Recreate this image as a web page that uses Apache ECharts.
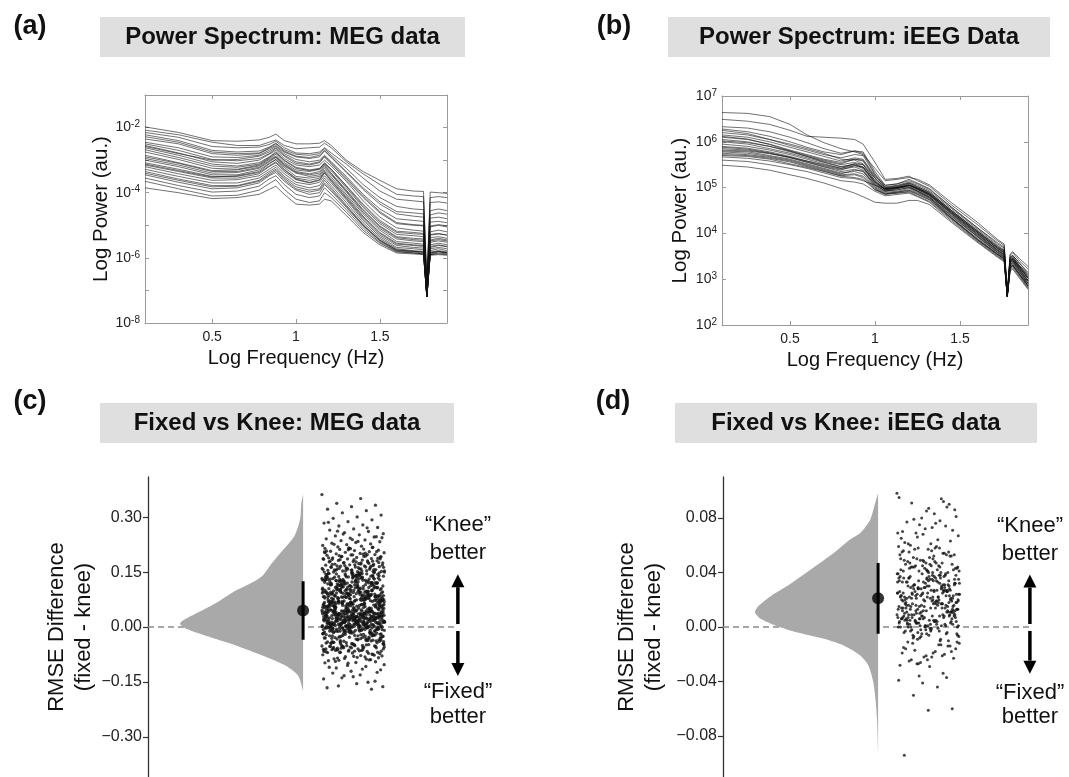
<!DOCTYPE html>
<html><head><meta charset="utf-8">
<script src="https://cdn.jsdelivr.net/npm/echarts@6/dist/echarts.min.js"></script>
<style>html,body{margin:0;padding:0;background:#fff}#c{width:1069px;height:777px}</style>
</head><body><div id="c"></div>
<script>
// ---------- DATA ----------
const megFreq = [0.1,0.3,0.5,0.65,0.78,0.84,0.88,0.93,1.0,1.08,1.14,1.17,1.21,1.3,1.4,1.5,1.6,1.7,1.76,1.78,1.8,1.85,1.9];
const megLines = [
[-1.98,-2.15,-2.40,-2.42,-2.38,-2.30,-2.20,-2.40,-2.50,-2.50,-2.48,-2.40,-2.55,-3.00,-3.35,-3.62,-3.88,-3.95,-3.96,-6.7,-3.98,-4.00,-4.02],
[-2.08,-2.22,-2.45,-2.55,-2.55,-2.45,-2.38,-2.55,-2.65,-2.62,-2.60,-2.48,-2.62,-3.05,-3.42,-3.75,-4.05,-4.10,-4.12,-6.8,-4.15,-4.12,-4.15],
[-2.15,-2.30,-2.58,-2.62,-2.60,-2.52,-2.42,-2.62,-2.78,-2.80,-2.75,-2.62,-2.78,-3.12,-3.55,-3.95,-4.20,-4.25,-4.28,-6.9,-4.30,-4.28,-4.32],
[-2.22,-2.40,-2.70,-2.75,-2.72,-2.60,-2.48,-2.68,-2.82,-2.85,-2.80,-2.65,-2.85,-3.25,-3.75,-4.15,-4.42,-4.50,-4.52,-6.9,-4.55,-4.50,-4.55],
[-2.28,-2.45,-2.75,-2.80,-2.78,-2.62,-2.50,-2.72,-2.88,-2.92,-2.85,-2.70,-2.90,-3.35,-3.85,-4.28,-4.58,-4.62,-4.65,-6.95,-4.68,-4.62,-4.66],
[-2.35,-2.50,-2.80,-2.85,-2.80,-2.65,-2.55,-2.75,-2.90,-2.95,-2.90,-2.72,-2.92,-3.38,-3.90,-4.35,-4.65,-4.72,-4.75,-7.0,-4.78,-4.75,-4.80],
[-2.45,-2.62,-2.90,-2.92,-2.85,-2.70,-2.58,-2.80,-2.98,-3.05,-3.00,-2.85,-3.05,-3.50,-4.05,-4.50,-4.80,-4.85,-4.88,-7.0,-4.90,-4.88,-4.92],
[-2.50,-2.70,-2.98,-3.02,-2.95,-2.80,-2.65,-2.88,-3.10,-3.15,-3.08,-2.90,-3.12,-3.60,-4.15,-4.62,-4.95,-5.00,-5.02,-7.1,-5.05,-5.00,-5.05],
[-2.55,-2.78,-3.05,-3.10,-3.00,-2.82,-2.70,-2.95,-3.15,-3.20,-3.15,-3.00,-3.18,-3.65,-4.25,-4.75,-5.08,-5.15,-5.18,-7.1,-5.20,-5.15,-5.20],
[-2.58,-2.80,-3.00,-2.98,-2.88,-2.75,-2.62,-2.85,-3.05,-3.12,-3.05,-2.88,-3.08,-3.55,-4.10,-4.58,-4.92,-4.98,-5.00,-7.05,-5.02,-4.98,-5.02],
[-2.62,-2.85,-3.12,-3.18,-3.08,-2.90,-2.75,-3.00,-3.22,-3.30,-3.25,-3.10,-3.28,-3.78,-4.35,-4.85,-5.18,-5.22,-5.25,-7.1,-5.28,-5.25,-5.30],
[-2.68,-2.92,-3.18,-3.22,-3.12,-2.92,-2.78,-3.02,-3.25,-3.32,-3.28,-3.08,-3.28,-3.80,-4.40,-4.90,-5.22,-5.26,-5.28,-7.1,-5.30,-5.27,-5.30],
[-2.75,-2.98,-3.25,-3.28,-3.15,-2.95,-2.82,-3.08,-3.30,-3.35,-3.28,-3.12,-3.32,-3.85,-4.45,-4.95,-5.28,-5.32,-5.35,-7.15,-5.38,-5.35,-5.40],
[-2.85,-3.08,-3.32,-3.30,-3.18,-2.98,-2.88,-3.12,-3.35,-3.42,-3.35,-3.15,-3.40,-3.92,-4.52,-5.02,-5.35,-5.40,-5.42,-7.15,-5.45,-5.40,-5.45],
[-2.90,-3.10,-3.35,-3.35,-3.22,-3.02,-2.90,-3.15,-3.38,-3.45,-3.40,-3.20,-3.42,-3.95,-4.55,-5.05,-5.38,-5.44,-5.46,-7.15,-5.48,-5.44,-5.48],
[-2.95,-3.15,-3.40,-3.38,-3.25,-3.05,-2.92,-3.18,-3.40,-3.50,-3.45,-3.25,-3.45,-3.98,-4.60,-5.10,-5.42,-5.48,-5.50,-7.15,-5.52,-5.48,-5.52],
[-3.00,-3.20,-3.45,-3.45,-3.30,-3.10,-2.98,-3.22,-3.50,-3.55,-3.50,-3.30,-3.52,-4.05,-4.65,-5.15,-5.50,-5.55,-5.58,-7.2,-5.60,-5.55,-5.60],
[-3.08,-3.28,-3.50,-3.50,-3.38,-3.18,-3.05,-3.30,-3.55,-3.62,-3.55,-3.35,-3.58,-4.10,-4.72,-5.22,-5.55,-5.60,-5.62,-7.2,-5.65,-5.60,-5.65],
[-3.12,-3.32,-3.52,-3.48,-3.35,-3.12,-2.98,-3.28,-3.58,-3.68,-3.60,-3.38,-3.62,-4.15,-4.75,-5.25,-5.58,-5.62,-5.65,-7.2,-5.68,-5.62,-5.66],
[-3.15,-3.35,-3.55,-3.55,-3.42,-3.20,-3.08,-3.35,-3.60,-3.70,-3.62,-3.40,-3.65,-4.18,-4.80,-5.30,-5.62,-5.68,-5.70,-7.2,-5.72,-5.68,-5.72],
[-3.20,-3.42,-3.62,-3.60,-3.48,-3.28,-3.15,-3.42,-3.68,-3.75,-3.68,-3.48,-3.70,-4.22,-4.85,-5.35,-5.68,-5.72,-5.75,-7.2,-5.78,-5.72,-5.78],
[-3.28,-3.50,-3.70,-3.70,-3.55,-3.35,-3.22,-3.50,-3.75,-3.85,-3.78,-3.55,-3.78,-4.30,-4.92,-5.40,-5.72,-5.78,-5.80,-7.2,-5.82,-5.78,-5.82],
[-3.35,-3.58,-3.78,-3.78,-3.62,-3.40,-3.28,-3.55,-3.82,-3.92,-3.88,-3.62,-3.85,-4.38,-4.98,-5.45,-5.75,-5.80,-5.82,-7.2,-5.85,-5.80,-5.85],
[-3.40,-3.62,-3.82,-3.80,-3.65,-3.45,-3.32,-3.60,-3.88,-3.98,-3.92,-3.70,-3.90,-4.42,-5.00,-5.46,-5.76,-5.80,-5.82,-7.2,-5.85,-5.80,-5.84],
[-3.45,-3.68,-3.88,-3.85,-3.70,-3.48,-3.38,-3.65,-3.92,-4.05,-4.00,-3.75,-3.95,-4.45,-5.02,-5.48,-5.78,-5.82,-5.85,-7.2,-5.88,-5.82,-5.85],
[-3.55,-3.78,-3.98,-3.95,-3.80,-3.58,-3.48,-3.75,-4.05,-4.15,-4.10,-3.85,-4.05,-4.52,-5.08,-5.52,-5.80,-5.85,-5.88,-7.2,-5.90,-5.85,-5.88],
[-3.65,-3.88,-4.10,-4.08,-3.92,-3.72,-3.60,-3.90,-4.20,-4.30,-4.25,-4.00,-4.15,-4.60,-5.15,-5.55,-5.82,-5.85,-5.88,-7.2,-5.90,-5.88,-5.90],
[-3.85,-4.00,-4.18,-4.15,-4.05,-3.90,-3.80,-4.05,-4.35,-4.38,-4.35,-4.20,-4.25,-4.70,-5.22,-5.60,-5.85,-5.88,-5.90,-7.2,-5.92,-5.90,-5.92]
];
const ieegFreq = [0.1,0.25,0.38,0.5,0.6,0.7,0.8,0.88,0.93,1.0,1.06,1.13,1.2,1.25,1.32,1.45,1.6,1.72,1.76,1.778,1.795,1.81,1.85,1.9];
const ieegLines = [
[6.64,6.62,6.55,6.38,6.15,5.98,5.85,5.78,5.72,5.42,5.15,5.18,5.22,5.18,5.06,4.67,4.25,3.87,3.77,2.70,3.55,3.60,3.45,3.28],
[6.49,6.45,6.38,6.25,6.12,6.10,6.08,6.05,5.95,5.55,5.18,5.20,5.25,5.15,5.03,4.62,4.20,3.84,3.74,2.70,3.52,3.58,3.40,3.22],
[6.33,6.30,6.22,6.10,5.98,5.85,5.75,5.80,5.78,5.35,5.05,5.08,5.18,5.10,4.98,4.57,4.13,3.80,3.70,2.68,3.48,3.52,3.35,3.15],
[6.28,6.22,6.12,6.00,5.88,5.78,5.72,5.80,5.75,5.30,5.02,5.05,5.12,5.05,4.93,4.54,4.10,3.74,3.64,2.66,3.45,3.50,3.30,3.10],
[6.25,6.18,6.05,5.92,5.82,5.72,5.65,5.72,5.70,5.28,5.00,5.02,5.10,5.02,4.90,4.50,4.05,3.70,3.62,2.66,3.42,3.46,3.28,3.05],
[6.20,6.15,6.05,5.95,5.85,5.75,5.62,5.60,5.52,5.20,4.98,5.00,5.05,4.98,4.86,4.47,4.03,3.67,3.58,2.65,3.40,3.44,3.25,3.02],
[6.15,6.10,6.00,5.88,5.78,5.68,5.58,5.65,5.62,5.25,5.05,5.08,5.15,5.08,4.96,4.57,4.13,3.77,3.68,2.67,3.48,3.52,3.35,3.12],
[6.12,6.06,5.94,5.80,5.68,5.56,5.46,5.50,5.44,5.12,4.96,5.00,5.06,4.99,4.87,4.47,4.03,3.67,3.57,2.65,3.40,3.44,3.26,3.02],
[6.10,6.05,5.95,5.82,5.72,5.62,5.55,5.62,5.58,5.20,4.98,5.02,5.08,5.00,4.88,4.50,4.07,3.72,3.62,2.66,3.44,3.48,3.30,3.08],
[6.05,6.00,5.90,5.78,5.68,5.58,5.50,5.55,5.50,5.15,4.95,4.98,5.05,4.98,4.86,4.47,4.03,3.68,3.58,2.65,3.40,3.44,3.26,3.02],
[6.02,5.98,5.90,5.80,5.70,5.60,5.52,5.62,5.60,5.22,5.00,5.04,5.10,5.02,4.90,4.50,4.06,3.70,3.60,2.65,3.42,3.46,3.28,3.05],
[6.00,5.95,5.85,5.75,5.65,5.55,5.45,5.52,5.45,5.10,4.95,5.00,5.05,4.96,4.83,4.44,4.00,3.64,3.54,2.64,3.38,3.42,3.22,2.98],
[5.95,5.90,5.82,5.72,5.62,5.52,5.42,5.48,5.42,5.08,4.92,4.98,5.02,4.95,4.83,4.42,3.97,3.62,3.52,2.64,3.35,3.40,3.20,2.95],
[5.90,5.86,5.78,5.68,5.58,5.48,5.40,5.45,5.38,5.05,4.92,4.95,5.00,4.92,4.80,4.40,3.95,3.60,3.50,2.64,3.32,3.38,3.18,2.92],
[5.88,5.84,5.76,5.66,5.56,5.46,5.38,5.48,5.45,5.12,4.96,4.98,5.05,4.97,4.84,4.43,3.98,3.63,3.53,2.64,3.36,3.40,3.20,2.96],
[5.85,5.82,5.75,5.65,5.55,5.45,5.35,5.40,5.35,5.02,4.90,4.92,4.98,4.90,4.78,4.37,3.93,3.58,3.48,2.63,3.30,3.35,3.15,2.90],
[5.82,5.80,5.74,5.66,5.58,5.50,5.42,5.52,5.50,5.15,4.97,5.00,5.06,4.98,4.85,4.45,4.00,3.64,3.55,2.64,3.37,3.42,3.22,2.97],
[5.80,5.78,5.70,5.62,5.52,5.42,5.32,5.35,5.30,5.00,4.88,4.90,4.95,4.88,4.76,4.34,3.90,3.56,3.47,2.63,3.28,3.32,3.12,2.88],
[5.78,5.75,5.68,5.60,5.50,5.40,5.30,5.38,5.36,5.06,4.93,4.95,5.00,4.93,4.80,4.38,3.94,3.59,3.49,2.63,3.31,3.36,3.16,2.91],
[5.75,5.72,5.66,5.58,5.48,5.38,5.28,5.30,5.25,4.98,4.86,4.88,4.92,4.85,4.73,4.32,3.87,3.54,3.44,2.62,3.25,3.30,3.10,2.85],
[5.72,5.70,5.64,5.56,5.46,5.36,5.26,5.28,5.22,4.96,4.86,4.90,4.94,4.86,4.74,4.33,3.88,3.55,3.45,2.62,3.26,3.31,3.11,2.86],
[5.70,5.68,5.62,5.52,5.44,5.35,5.25,5.22,5.18,4.95,4.85,4.88,4.90,4.82,4.70,4.30,3.85,3.52,3.42,2.62,3.22,3.28,3.08,2.82],
[5.67,5.64,5.58,5.50,5.42,5.32,5.22,5.20,5.15,5.05,4.98,5.00,5.02,4.92,4.78,4.34,3.87,3.54,3.44,2.62,3.25,3.30,3.10,2.85],
[5.60,5.57,5.50,5.42,5.35,5.25,5.15,5.12,5.08,4.92,4.82,4.85,4.88,4.80,4.68,4.27,3.83,3.50,3.40,2.61,3.20,3.25,3.05,2.80],
[5.49,5.45,5.38,5.28,5.20,5.10,4.98,4.88,4.80,4.68,4.66,4.66,4.72,4.72,4.63,4.24,3.81,3.48,3.38,2.61,3.18,3.22,3.02,2.78]
];
const powerTicks = [0.5, 1, 1.5];
const megExpTicks = [-8, -6, -4, -2];
const ieegExpTicks = [2, 3, 4, 5, 6, 7];

// half-violin density profiles: [difference, relative width]
const megDensity = [[0.363,0],[0.34,0.014],[0.295,0.024],[0.249,0.07],[0.204,0.18],[0.167,0.27],[0.14,0.33],[0.122,0.41],[0.095,0.57],[0.067,0.70],[0.04,0.85],[0.017,0.98],[0.008,1.0],[-0.005,0.95],[-0.024,0.79],[-0.051,0.54],[-0.078,0.33],[-0.106,0.14],[-0.133,0.04],[-0.174,0]];
const ieegDensity = [[0.098,0],[0.0907,0.024],[0.0785,0.065],[0.0689,0.145],[0.064,0.23],[0.0543,0.36],[0.042,0.55],[0.030,0.74],[0.0228,0.87],[0.0155,0.97],[0.0107,1.0],[0.0058,0.95],[0.001,0.83],[-0.0039,0.66],[-0.0087,0.44],[-0.0136,0.28],[-0.0209,0.145],[-0.028,0.08],[-0.040,0.04],[-0.0548,0.019],[-0.069,0.008],[-0.0936,0]];

// mean and 95% CI of the RMSE difference
const megMean = 0.045, megCI = [-0.035, 0.125];
const ieegMean = 0.021, ieegCI = [-0.005, 0.047];
const megDiffTicks = [-0.30, -0.15, 0, 0.15, 0.30];
const ieegDiffTicks = [-0.08, -0.04, 0, 0.04, 0.08];

// per-channel RMSE difference (thousandths)
const megDiff = [
362,351,338,333,329,322,318,312,306,301,297,293,288,284,279,276,272,268,265,261,258,255,252,249,246,243,241,238,236,233,231,229,227,225,223,221,262,247,239,286,271,254,244,234,226,
218,216,215,213,212,210,209,207,206,204,203,201,200,198,197,196,194,193,191,190,189,187,186,185,183,182,181,179,178,177,176,175,173,172,171,170,169,167,166,165,164,163,162,161,160,159,158,157,156,155,154,153,152,151,150,217,211,205,199,195,188,184,180,174,168,163,159,155,151,214,208,202,192,186,178,171,166,161,157,153,219,206,197,189,181,175,169,162,156,152,215,203,193,184,176,170,164,158,154,150,
147,93,121,68,135,82,109,56,142,77,101,63,128,88,115,52,139,71,97,124,59,132,85,106,66,144,79,113,54,126,91,72,137,103,61,118,84,149,57,96,130,74,110,65,141,87,122,53,99,134,70,116,80,145,62,104,127,90,58,138,76,112,67,131,94,51,120,83,146,69,107,136,60,98,125,78,143,55,114,89,129,64,102,140,73,119,86,50,133,95,111,57,148,81,123,66,105,137,75,117,92,53,128,70,144,100,62,121,84,139,59,108,131,77,96,56,126,88,142,68,113,103,54,135,80,119,64,147,91,110,72,124,58,138,86,101,61,130,76,115,95,52,141,69,106,127,83,65,144,98,118,74,57,132,89,109,63,136,79,121,94,55,126,71,112,148,85,60,103,134,78,97,66,140,116,87,53,129,73,107,62,123,92,145,81,58,114,99,70,137,67,104,125,84,51,131,90,117,75,143,63,110,96,56,128,82,102,139,69,120,93,60,133,77,108,146,86,
12,-8,31,5,44,-23,18,-2,37,9,-35,25,1,48,-14,15,33,-6,22,3,-41,40,11,-19,28,7,-3,46,17,-28,35,0,20,-11,42,13,-46,26,4,38,-16,19,-7,30,8,45,-31,23,2,36,-9,16,-38,29,10,-1,43,21,-24,34,6,-13,39,14,-4,27,-49,47,18,-20,32,3,24,-10,41,11,-33,36,0,15,-5,44,26,-17,30,7,-43,21,12,-2,38,-26,19,49,5,-12,33,23,-37,9,28,-8,46,16,1,-21,35,13,-45,40,25,-3,31,6,-15,43,20,-30,10,37,-6,27,2,-48,45,17,-11,34,22,-1,39,8,-25,29,14,-40,42,4,-18,24,32,-7,47,11,-34,19,0,36,-13,26,-4,41,15,-27,30,9,-44,23,3,-9,38,18,-22,33,-2,44,12,-36,28,6,-16,40,21,-5,35,10,-47,25,1,-12,45,16,-29,31,7,-3,37,20,-39,27,13,-19,43,4,-8,34,24,-1,48,11,-23,39,17,-42,29,2,-14,36,22,-6,46,8,-32,26,14,0,41,19,-10,32,5,-50,38,15,-24,28,3,-7,44,23,-17,35,9,-37,30,12,-2,40,18,-28,25,6,-11,47,21,-45,33,1,
-52,-78,-61,-95,-57,-70,-88,-54,-66,-83,-59,-74,-99,-63,-56,-91,-69,-80,-53,-72,-86,-60,-65,-94,-77,-55,-68,-82,-58,-73,-97,-62,-89,-51,-76,-64,-85,-57,-71,-92,-67,-54,-79,-60,-87,-75,-63,-98,-56,-70,-84,-66,-53,-90,-81,
-103,-131,-112,-148,-121,-166,-108,-139,-117,-155,-126,-170,-105,-142,-115,-161,-124,-136,-110,-151,-133,-163,
4,57,-21,113,32,86,-45,148,18,69,-9,102,41,175,-33,77,26,130,-2,59,93,14,-56,121,48,83,7,160,37,-14,66,108,21,-40,142,54,1,88,29,-26,117,73,11,185,45,-6,97,62,-63,35,134,19,80,-18,51,105,8,168,42,-30,71,125,24,-51,90,3,58,153,33,-11,84,110,16,-37,64,192,47,-4,99,28,-67,75,138,12,53,-24,87,119,39,-8,68,157,22,-44,95,6,60,127,31,-16,81,106,15,-58,72,143,44,-1,92,26,-35,57,180,10,79,-20,114,49,2,65,131,36,-48,89,17,-12,101,55,164,27,-29,74,9,122,43,-61,85,30,-5,62,146,20,-39,96,52,13,-22,78,137,38,-69,70,107,5,-15,91,46,172,23,-53,63,118,34,-3,82,11,-42,100,56,150,29,-27,67,7,124,40,-10,86,21,-64,73,112,48,0,94,16,-33,59,139,35,-19,80,103,25,-47,69,198,14,-7,98,42,-36,61,128,31,3,84,-23,115,50,18,-55,76,145,37,-13,90,24,66,-31,109,45,8,158,28,-50,71,120,39,-1,87,12,-25,97,53,133,22,-60,64,104,33,-9,79,15,-43,93,47,167,26,-17,74,6,126,41,-34,88,19,-66,58,111,36,-4,83,10,-28,99,51,141,30,-52,68,2,116,44,-20,91,23,-38,63,187,34,-12,85,17,105,49,-57,72,9,136,38,-6,95,27,-41,60,123,46,-15,81,13,-32,102,55,155,25,-49,70,4,119,40,-24,89,20,-62,65,108,35,-3,78,14,-46,94,50,148,29,-21,75,7,129,43,-11,86
];
const ieegDiff = [
98,76,91,63,85,70,94,66,81,73,61,88,68,95,64,79,71,87,62,92,75,67,83,60,90,72,65,78,69,86,61,77,74,80,69,
59,44,52,41,56,47,58,43,50,55,40,48,53,45,57,42,51,46,54,49,41,58,44,52,47,55,40,50,43,56,48,53,45,59,42,51,46,57,49,54,41,44,52,47,55,43,50,58,45,53,
21,33,14,28,39,17,25,11,36,19,30,13,24,38,16,27,12,34,22,31,15,37,20,26,10,35,18,29,23,32,14,38,21,12,27,33,16,24,39,19,30,11,25,36,17,28,13,34,22,31,15,37,20,26,10,35,18,29,23,32,14,21,27,12,33,17,24,38,19,30,11,25,36,16,28,13,34,22,31,15,20,26,37,18,29,23,32,12,35,14,21,27,16,33,19,24,11,30,25,17,28,13,22,36,15,20,26,18,31,23,
5,-3,8,1,-7,4,0,9,-2,6,-9,3,7,-1,2,-5,8,0,4,-8,6,1,-4,9,3,-6,5,2,-10,7,0,-3,4,8,-1,6,2,-7,9,5,-2,3,-5,7,1,-9,4,8,0,-4,6,3,-1,9,2,-6,5,7,-8,1,4,-3,8,0,6,-10,3,9,-2,5,1,-5,7,2,
-12,-18,-24,-15,-21,-27,-11,-19,-25,-14,-22,-28,-13,-17,-23,-29,-16,-20,-26,-12,-18,-24,-14,-21,-19,-13,-27,-16,-22,-11,
-37,-41,-39,-44,-50,-60,-61,-94,-34,-36,
13,27,5,34,19,42,8,23,31,2,16,38,11,25,47,7,21,35,14,29,-4,18,40,9,26,33,4,22,44,12,30,17,37,6,24,48,15,28,1,20,36,10,32,45,3,23,39,13,27,-6,19,41,8,25,34,0,17,43,11,29,22,38,5,16,46,14,31,-2,24,36,9,20,42,12,28,3,18,35,7,26,49,15,33,-7,21,40,10,27,6,19,37,13,30,1,23,44,16,32,-3,11,39,8,25,34,17,4,22,41,14,29,-5,20,36,12
];

// ---------- CHART ----------
const FONT = '"Liberation Sans", Arial, Helvetica, sans-serif';
const chart = echarts.init(document.getElementById('c'), null, {renderer: 'canvas'});

// layout constants for the raincloud panels (hidden x scale 0..10)
const VIOLIN_EDGE = 4.7, VIOLIN_HALF = 3.73, JIT_LO = 5.27, JIT_W = 1.9;

function supLabel(v) { return '{b|10}{s|' + v + '}'; }
const supRich = { b: { fontSize: 14, color: '#222', fontFamily: FONT }, s: { fontSize: 10, color: '#222', fontFamily: FONT, verticalAlign: 'top', padding: [0, 0, 6, 0] } };

function specX(gi, pos) {
  return { type: 'value', gridIndex: gi, position: pos, min: 0.1, max: 1.9,
    axisLine: { show: true, lineStyle: { color: '#9a9a9a', width: 1 } },
    axisTick: { show: true, inside: true, length: 4, customValues: powerTicks, lineStyle: { color: '#9a9a9a' } },
    axisLabel: pos === 'bottom' ? { show: true, customValues: powerTicks, formatter: v => String(v), fontSize: 14, color: '#222', fontFamily: FONT, margin: 7 } : { show: false },
    splitLine: { show: false },
    name: pos === 'bottom' ? 'Log Frequency (Hz)' : '', nameLocation: 'middle', nameGap: 25,
    nameTextStyle: { fontSize: 20, color: '#111', fontFamily: FONT } };
}
function specY(gi, pos, min, max, labels) {
  const all = []; for (let k = min; k <= max; k++) all.push(k);
  return { type: 'value', gridIndex: gi, position: pos, min: min, max: max,
    axisLine: { show: true, lineStyle: { color: '#9a9a9a', width: 1 } },
    axisTick: { show: true, inside: true, length: 4, customValues: all, lineStyle: { color: '#9a9a9a' } },
    axisLabel: pos === 'left' ? { show: true, customValues: labels, formatter: supLabel, rich: supRich, margin: 5 } : { show: false },
    splitLine: { show: false },
    name: pos === 'left' ? 'Log Power (au.)' : '', nameLocation: 'middle', nameGap: 31,
    nameTextStyle: { fontSize: 20.5, color: '#111', fontFamily: FONT } };
}
function diffY(gi, lim, ticks, gap) {
  return { type: 'value', gridIndex: gi, min: -lim, max: lim,
    axisLine: { show: true, lineStyle: { color: '#333', width: 1.3 } },
    axisTick: { show: true, inside: false, length: 5, customValues: ticks, lineStyle: { color: '#333', width: 1.2 } },
    axisLabel: { customValues: ticks, formatter: v => (v < 0 ? '\u2212' : '') + Math.abs(v).toFixed(2), fontSize: 16, color: '#222', fontFamily: FONT, margin: 6 },
    splitLine: { show: false },
    name: 'RMSE Difference\n(fixed - knee)', nameLocation: 'middle', nameGap: gap,
    nameTextStyle: { fontSize: 22, lineHeight: 27, color: '#111', fontFamily: FONT } };
}

const series = [];
megLines.forEach(vals => series.push({ type: 'line', xAxisIndex: 0, yAxisIndex: 0, showSymbol: false, silent: true,
  data: megFreq.map((f, i) => [f, vals[i]]), lineStyle: { color: '#111', width: 0.8, opacity: 0.75 } }));
ieegLines.forEach(vals => series.push({ type: 'line', xAxisIndex: 2, yAxisIndex: 2, showSymbol: false, silent: true,
  data: ieegFreq.map((f, i) => [f, vals[i]]), lineStyle: { color: '#111', width: 0.8, opacity: 0.75 } }));

function violin(ax, dens) {
  return { type: 'custom', xAxisIndex: ax, yAxisIndex: ax, silent: true, data: [[VIOLIN_EDGE, 0]],
    renderItem(params, api) {
      const pts = [api.coord([VIOLIN_EDGE, dens[0][0]])];
      dens.forEach(([y, w]) => pts.push(api.coord([VIOLIN_EDGE - w * VIOLIN_HALF, y])));
      pts.push(api.coord([VIOLIN_EDGE, dens[dens.length - 1][0]]));
      return { type: 'polygon', shape: { points: pts, smooth: 0.25 }, style: { fill: '#a9a9a9' } };
    } };
}
function arrows(ax, x, items) {
  return { type: 'custom', xAxisIndex: ax, yAxisIndex: ax, silent: true, data: items.map(d => [x, d[0], d[1]]),
    encode: { x: 0, y: [1, 2] },
    renderItem(params, api) {
      const p0 = api.coord([api.value(0), api.value(1)]), p1 = api.coord([api.value(0), api.value(2)]);
      const dir = p1[1] < p0[1] ? -1 : 1, head = 13, hw = 6.5;
      return { type: 'group', children: [
        { type: 'line', shape: { x1: p0[0], y1: p0[1], x2: p1[0], y2: p1[1] - dir * head }, style: { stroke: '#000', lineWidth: 3.5 } },
        { type: 'polygon', shape: { points: [[p1[0], p1[1]], [p1[0] - hw, p1[1] - dir * head], [p1[0] + hw, p1[1] - dir * head]] }, style: { fill: '#000' } }
      ] };
    } };
}
function raincloud(ax, dens, vals, mean, ci, arrowX, arrowItems, dot) {
  series.push({ type: 'line', xAxisIndex: ax, yAxisIndex: ax, silent: true, showSymbol: false, z: 1,
    data: [[0, 0], [arrowX, 0]], lineStyle: { color: '#8a8a8a', width: 1.3, type: [6, 4] } });
  series.push(violin(ax, dens));
  series.push({ type: 'scatter', xAxisIndex: ax, yAxisIndex: ax, silent: true, symbolSize: dot,
    itemStyle: { color: '#151515' },
    data: vals.map((v, i) => [JIT_LO + ((i * 0.6180339887) % 1) * JIT_W, v / 1000]) });
  series.push({ type: 'line', xAxisIndex: ax, yAxisIndex: ax, silent: true, showSymbol: false, z: 5,
    data: [[VIOLIN_EDGE, ci[0]], [VIOLIN_EDGE, ci[1]]], lineStyle: { color: '#000', width: 3 } });
  series.push({ type: 'scatter', xAxisIndex: ax, yAxisIndex: ax, silent: true, symbolSize: 12, z: 6,
    itemStyle: { color: '#000' }, data: [[VIOLIN_EDGE, mean]] });
  series.push(arrows(ax, arrowX, arrowItems));
}
raincloud(4, megDensity, megDiff, megMean, megCI, 9.39, [[0.008, 0.1445], [-0.011, -0.134]], 3.3);
raincloud(5, ieegDensity, ieegDiff, ieegMean, ieegCI, 9.30, [[0.0022, 0.0385], [-0.0029, -0.0342]], 3.0);

function titleBox(x, y, w, h, text) {
  return [
    { type: 'rect', shape: { x: x, y: y, width: w, height: h }, style: { fill: '#dfdfdf' }, silent: true },
    { type: 'text', x: x + w / 2, y: y + h / 2, silent: true, style: { text: text, font: 'bold 24px ' + FONT, fill: '#111', align: 'center', verticalAlign: 'middle', textAlign: 'center', textVerticalAlign: 'middle' } }
  ];
}
function txt(x, y, text, font) {
  return { type: 'text', x: x, y: y, silent: true, style: { text: text, font: font, fill: '#111', align: 'center', verticalAlign: 'middle', textAlign: 'center', textVerticalAlign: 'middle' } };
}
const PF = 'bold 27px ' + FONT, AF = '22px ' + FONT;
const graphics = [].concat(
  titleBox(100, 17, 365, 40, 'Power Spectrum: MEG data'),
  titleBox(668, 17, 382, 40, 'Power Spectrum: iEEG Data'),
  titleBox(100, 403, 354, 40, 'Fixed vs Knee: MEG data'),
  titleBox(675, 403, 362, 40, 'Fixed vs Knee: iEEG data'),
  [txt(30, 27, '(a)', PF), txt(614, 27, '(b)', PF), txt(30, 402, '(c)', PF), txt(613, 402, '(d)', PF),
   txt(458, 525, '\u201CKnee\u201D', AF), txt(458, 553, 'better', AF), txt(458, 692, '\u201CFixed\u201D', AF), txt(458, 717, 'better', AF),
   txt(1030, 526, '\u201CKnee\u201D', AF), txt(1030, 554, 'better', AF), txt(1030, 693, '\u201CFixed\u201D', AF), txt(1030, 717, 'better', AF)]
);

chart.setOption({
  animation: false,
  backgroundColor: '#fff',
  textStyle: { fontFamily: FONT },
  grid: [
    { left: 145, top: 95, width: 302, height: 228 },
    { left: 722, top: 96, width: 306, height: 229 },
    { left: 148, top: 477, width: 330, height: 301 },
    { left: 723, top: 477, width: 330, height: 301 }
  ],
  xAxis: [
    specX(0, 'bottom'), specX(0, 'top'), specX(1, 'bottom'), specX(1, 'top'),
    { type: 'value', gridIndex: 2, min: 0, max: 10, show: false },
    { type: 'value', gridIndex: 3, min: 0, max: 10, show: false }
  ],
  yAxis: [
    specY(0, 'left', -8, -1, megExpTicks), specY(0, 'right', -8, -1, megExpTicks),
    specY(1, 'left', 2, 7, ieegExpTicks), specY(1, 'right', 2, 7, ieegExpTicks),
    diffY(2, 0.41, megDiffTicks, 50), diffY(3, 0.11, ieegDiffTicks, 56)
  ],
  series: series,
  graphic: { elements: graphics }
});
</script>
</body></html>
